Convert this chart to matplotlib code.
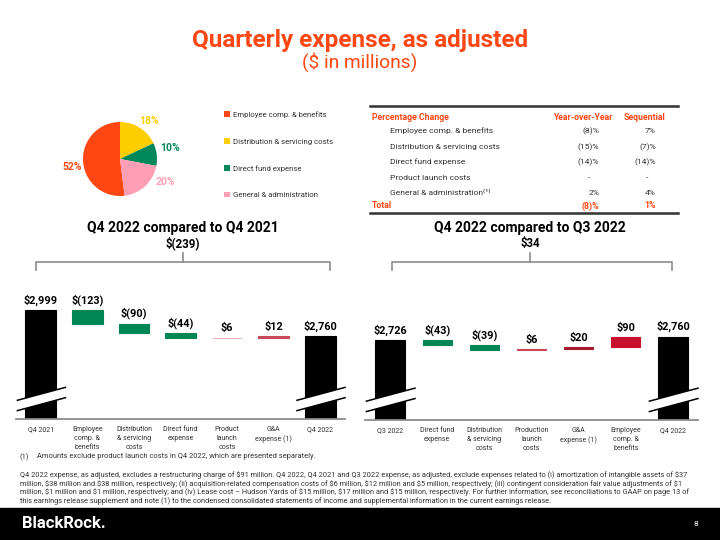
import numpy as np
import matplotlib
matplotlib.use("Agg")
import matplotlib.pyplot as plt
from matplotlib.lines import Line2D
from matplotlib.patches import Rectangle, Polygon
import matplotlib.transforms as mtransforms

plt.rcParams['font.family'] = ['Roboto', 'DejaVu Sans']
plt.rcParams['text.parse_math'] = False

# colours
ORANGE = '#FF4713'
YELLOW = '#FFCE00'
GREEN = '#008755'
PINK = '#FF9EB5'
TXT = '#333333'
GRAY = '#8C8C8C'

# pie data (legend order)
pie_cats = ["Employee comp. & benefits", "Distribution & servicing costs",
            "Direct fund expense", "General & administration"]
pie_shares = [52, 18, 10, 20]
pie_colors = [ORANGE, YELLOW, '#00875A', PINK]

# percentage change table
tbl_rows = ["Employee comp. & benefits", "Distribution & servicing costs",
            "Direct fund expense", "Product launch costs", "General & administration\u207d\u00b9\u207e"]
tbl_yoy = ["(8)%", "(15)%", "(14)%", "-", "2%"]
tbl_seq = ["7%", "(7)%", "(14)%", "-", "4%"]
tbl_total = ["(8)%", "1%"]

# waterfall Q4 2022 vs Q4 2021
yoy_cats = ["Q4 2021", "Employee\ncomp. &\nbenefits", "Distribution\n& servicing\ncosts",
            "Direct fund\nexpense", "Product\nlaunch\ncosts", "G&A\nexpense (1)", "Q4 2022"]
yoy_start = 2999
yoy_deltas = [-123, -90, -44, 6, 12]
yoy_end = 2760
yoy_colors = [GREEN, GREEN, GREEN, '#F2B8C0', '#C8485A']

# waterfall Q4 2022 vs Q3 2022
seq_cats = ["Q3 2022", "Direct fund\nexpense", "Distribution\n& servicing\ncosts",
            "Production\nlaunch\ncosts", "G&A\nexpense (1)", "Employee\ncomp. &\nbenefits", "Q4 2022"]
seq_start = 2726
seq_deltas = [-43, -39, 6, 20, 90]
seq_end = 2760
seq_colors = [GREEN, GREEN, '#C8485A', '#A6192E', '#C8102E']

YMIN, YMAX = 2010, 3180


def fx(x):
    return x / 720


def fy(y):
    return 1 - y / 540


def money(v, total=False):
    if total:
        return "${:,}".format(v)
    return "${}".format(v) if v >= 0 else "$({})".format(-v)


def waterfall(ax, cats, start, deltas, end, colors, width):
    x = np.arange(len(deltas) + 2)
    cum = start + np.concatenate([[0], np.cumsum(deltas)])
    bottoms = [0] + [min(cum[i], cum[i + 1]) for i in range(len(deltas))] + [0]
    heights = [start] + [abs(d) for d in deltas] + [end]
    cols = ['black'] + colors + ['black']
    ax.bar(x, heights, bottom=bottoms, width=width, color=cols, edgecolor=cols, linewidth=0.8)
    texts = [money(start, True)] + [money(d) for d in deltas] + [money(end, True)]
    for xi, b, h, t in zip(x, bottoms, heights, texts):
        ax.annotate(t, (xi, b + h), xytext=(0, 3), textcoords='offset points',
                    ha='center', va='bottom', fontsize=7.8, fontweight='bold', color='black')
    ax.set_ylim(YMIN, YMAX)
    ax.set_xlim(-0.53, len(x) - 0.47)
    ax.set_xticks(x)
    ax.set_xticklabels(cats, fontsize=5.0, color=TXT, linespacing=1.4)
    ax.tick_params(axis='x', length=0, pad=5)
    ax.set_yticks([])
    for s in ['top', 'left', 'right']:
        ax.spines[s].set_visible(False)
    ax.spines['bottom'].set_color(GRAY)
    ax.spines['bottom'].set_linewidth(1.3)
    # axis break marks on the two total bars
    trans = mtransforms.blended_transform_factory(ax.transData, ax.transAxes)
    for xi in [x[0], x[-1]]:
        x0, x1 = xi - 0.5, xi + 0.53
        lo0, lo1, gap = 0.065, 0.165, 0.08
        ax.add_patch(Polygon([[x0, lo0], [x1, lo1], [x1, lo1 + gap], [x0, lo0 + gap]],
                             closed=True, facecolor='white', edgecolor='none',
                             transform=trans, clip_on=False, zorder=3))
        for off in [0, gap]:
            ax.add_line(Line2D([x0, x1], [lo0 + off, lo1 + off], color='black', lw=1.1,
                               transform=trans, clip_on=False, zorder=4))


fig = plt.figure(figsize=(7.2, 5.4), dpi=100)

# title
fig.text(0.5, fy(40), "Quarterly expense, as adjusted", ha='center', va='center',
         fontsize=17.5, fontweight='bold', color=ORANGE)
fig.text(0.5, fy(62), "($ in millions)", ha='center', va='center', fontsize=13.8, color=ORANGE)

# pie
axp = fig.add_axes([fx(83), fy(196), fx(74), 74 / 540])
wedges, _ = axp.pie(pie_shares, colors=pie_colors, startangle=90 + pie_shares[0] * 3.6,
                    counterclock=False)
axp.set_xlim(-1, 1)
axp.set_ylim(-1, 1)
axp.set_aspect('equal')
label_ang = [190, 53, 12, -27]
label_r = [1.3, 1.29, 1.38, 1.39]
for s, c, a, r in zip(pie_shares, pie_colors, label_ang, label_r):
    axp.text(r * np.cos(np.radians(a)), r * np.sin(np.radians(a)), "{}%".format(s),
             ha='center', va='center', fontsize=7.5, fontweight='bold', color=c, clip_on=False)
fig.legend(wedges, pie_cats, loc='upper left', bbox_to_anchor=(fx(224), fy(111)),
           frameon=False, fontsize=5.6, labelspacing=2.6, handlelength=0.75,
           handleheight=0.75, handletextpad=0.35, borderpad=0, borderaxespad=0,
           labelcolor=TXT)

# table
fig.add_artist(Line2D([fx(370), fx(678)], [fy(106), fy(106)], color=TXT, lw=1.8))
fig.add_artist(Line2D([fx(370), fx(678)], [fy(213), fy(213)], color=TXT, lw=1.8))
fig.text(fx(372), fy(117), "Percentage Change", ha='left', va='center', fontsize=6.3,
         fontweight='bold', color=ORANGE)
fig.text(fx(583), fy(117), "Year-over-Year", ha='center', va='center', fontsize=6.3,
         fontweight='bold', color=ORANGE)
fig.text(fx(645), fy(117), "Sequential", ha='center', va='center', fontsize=6.3,
         fontweight='bold', color=ORANGE)
row_y = [131, 147, 162, 178, 193]
for lab, a, b, y in zip(tbl_rows, tbl_yoy, tbl_seq, row_y):
    fig.text(fx(390), fy(y), lab, ha='left', va='center', fontsize=6.1, color=TXT)
    fig.text(fx(599 if a != '-' else 590), fy(y), a, ha='right', va='center', fontsize=6.1, color=TXT)
    fig.text(fx(656 if b != '-' else 648), fy(y), b, ha='right', va='center', fontsize=6.1, color=TXT)
fig.text(fx(372), fy(206), "Total", ha='left', va='center', fontsize=6.3, fontweight='bold', color=ORANGE)
fig.text(fx(599), fy(206), tbl_total[0], ha='right', va='center', fontsize=6.3, fontweight='bold', color=ORANGE)
fig.text(fx(656), fy(206), tbl_total[1], ha='right', va='center', fontsize=6.3, fontweight='bold', color=ORANGE)

# section titles and brackets
for cx, x0, x1, title, total in [(183, 36, 330, "Q4 2022 compared to Q4 2021", "$(239)"),
                                 (530, 392, 672, "Q4 2022 compared to Q3 2022", "$34")]:
    fig.text(fx(cx), fy(228), title, ha='center', va='center', fontsize=10, fontweight='bold', color='black')
    fig.text(fx(cx), fy(243), total, ha='center', va='center', fontsize=8.3, fontweight='bold', color='black')
    fig.add_artist(Line2D([fx(x0), fx(x0), fx(x1), fx(x1)], [fy(270), fy(262), fy(262), fy(270)],
                          color=GRAY, lw=1.2))
    fig.add_artist(Line2D([fx(cx), fx(cx)], [fy(253), fy(262)], color=GRAY, lw=1.2))

# waterfalls
ax1 = fig.add_axes([fx(16), fy(419), fx(329), 129 / 540])
waterfall(ax1, yoy_cats, yoy_start, yoy_deltas, yoy_end, yoy_colors, 0.66)
ax2 = fig.add_axes([fx(365), fy(420), fx(333), 130 / 540])
waterfall(ax2, seq_cats, seq_start, seq_deltas, seq_end, seq_colors, 0.62)

# footnotes
fig.text(fx(20), fy(457), "(1)", ha='left', va='center', fontsize=5.4, color=TXT)
fig.text(fx(37), fy(457), "Amounts exclude product launch costs in Q4 2022, which are presented separately.",
         ha='left', va='center', fontsize=5.4, color=TXT)
note = ("Q4 2022 expense, as adjusted, excludes a restructuring charge of $91 million. Q4 2022, Q4 2021 and Q3 2022 expense, as adjusted, exclude expenses related to (i) amortization of intangible assets of $37\n"
        "million, $38 million and $38 million, respectively; (ii) acquisition-related compensation costs of $6 million, $12 million and $5 million, respectively; (iii) contingent consideration fair value adjustments of $1\n"
        "million, $1 million and $1 million, respectively; and (iv) Lease cost \u2013 Hudson Yards of $15 million, $17 million and $15 million, respectively. For further information, see reconciliations to GAAP on page 13 of\n"
        "this earnings release supplement and note (1) to the condensed consolidated statements of income and supplemental information in the current earnings release.")
fig.text(fx(20), fy(471), note, ha='left', va='top', fontsize=5.35, color=TXT, linespacing=1.12)

# footer band
fig.add_artist(Rectangle((0, 0), 1, fy(508), transform=fig.transFigure, color='black'))
fig.text(fx(22), fy(524), "BlackRock.", ha='left', va='center', fontsize=12,
         fontweight='bold', color='white')
fig.text(fx(696), fy(524), "8", ha='center', va='center', fontsize=6, color='white')

fig.savefig("out.png", dpi=100)
